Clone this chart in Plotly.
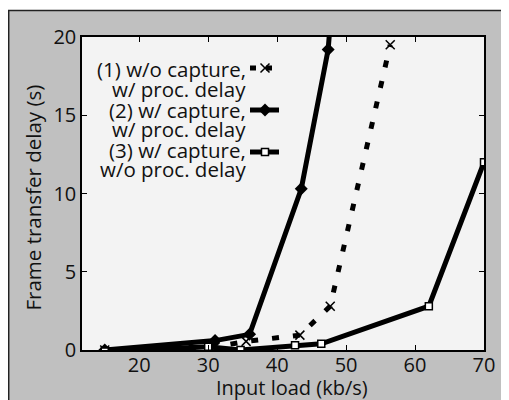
import plotly.graph_objects as go

# ---- data ----
s1_x = [15, 31, 35.5, 43.3, 47.7, 56.4]
s1_y = [0.0, 0.2, 0.55, 0.95, 2.8, 19.5]
s2_x = [15, 31, 36, 43.5, 47.4, 47.9]
s2_y = [0.0, 0.6, 1.0, 10.3, 19.2, 22.0]
s3_x = [15, 30, 34.7, 42.6, 46.4, 62, 70]
s3_y = [-0.1, 0.2, 0.0, 0.3, 0.4, 2.8, 12.0]

legend_lines = [["(1) w/o capture,", "w/ proc. delay"],
                ["(2) w/ capture,", "w/ proc. delay"],
                ["(3) w/ capture,", "w/o proc. delay"]]
x_ticks = [20, 30, 40, 50, 60, 70]
y_ticks = [0, 5, 10, 15, 20]
x_title = "Input load (kb/s)"
y_title = "Frame transfer delay (s)"

FONT = "Open Sans"
OFF = 8                      # page body margin of the html page
W, H = 509 - OFF, 400 - OFF  # figure size
# plot area in page pixels: x 82..484, y 37..350
L, R = 82 - OFF, W - (484 - OFF)
T, B = 37 - OFF, H - (350 - OFF)
PW, PH = W - L - R, H - T - B


def px(xp):
    """page x pixel -> paper fraction"""
    return (xp - OFF - L) / PW


def py(yp):
    """page y pixel -> paper fraction"""
    return (H - B - (yp - OFF)) / PH


fig = go.Figure()

fig.add_trace(go.Scatter(x=s1_x, y=s1_y, mode="lines+markers",
                         line=dict(color="black", width=5, dash="7px,14px"),
                         marker=dict(symbol="x-thin", size=9, line=dict(width=1.5, color="black")),
                         showlegend=False))
fig.add_trace(go.Scatter(x=s2_x, y=s2_y, mode="lines+markers",
                         line=dict(color="black", width=5),
                         marker=dict(symbol="diamond", size=10, color="black"),
                         showlegend=False))
fig.add_trace(go.Scatter(x=s3_x, y=s3_y, mode="lines+markers",
                         line=dict(color="black", width=5),
                         marker=dict(symbol="square", size=7, color="white",
                                     line=dict(width=1.5, color="black")),
                         showlegend=False))

# legend samples on overlay axes (0..1 of plot area)
sample_y = [py(68), py(110), py(152)]
sx = [px(250), px(265), px(279)]
styles = [
    dict(line=dict(color="black", width=5, dash="6px,10px"),
         marker=dict(symbol="x-thin", size=9, line=dict(width=1.5, color="black"))),
    dict(line=dict(color="black", width=5),
         marker=dict(symbol="diamond", size=10, color="black")),
    dict(line=dict(color="black", width=5),
         marker=dict(symbol="square", size=7, color="white", line=dict(width=1.5, color="black"))),
]
for yy, st in zip(sample_y, styles):
    fig.add_trace(go.Scatter(x=[sx[0], sx[2]], y=[yy, yy], mode="lines",
                             line=st["line"], xaxis="x2", yaxis="y2", showlegend=False,
                             hoverinfo="skip"))
    fig.add_trace(go.Scatter(x=[sx[1]], y=[yy], mode="markers", marker=st["marker"],
                             xaxis="x2", yaxis="y2", showlegend=False, hoverinfo="skip"))

annotations = []
line_y = [69, 89, 110, 129, 150, 169]
k = 0
for entry in legend_lines:
    for t in entry:
        annotations.append(dict(x=px(247), y=py(line_y[k]), xref="paper", yref="paper",
                                text=t, showarrow=False, xanchor="right", yanchor="middle",
                                borderpad=0,
                                font=dict(family=FONT, size=20.5, color="#111")))
        k += 1
annotations.append(dict(x=px(292), y=py(387), xref="paper", yref="paper", text=x_title,
                        showarrow=False, xanchor="center", yanchor="middle", borderpad=0,
                        font=dict(family=FONT, size=20, color="#111")))
annotations.append(dict(x=px(33), y=py(197.5), xref="paper", yref="paper", text=y_title,
                        showarrow=False, xanchor="center", yanchor="middle", textangle=-90,
                        font=dict(family=FONT, size=20.5, color="#111")))

shapes = [
    dict(type="rect", xref="paper", yref="paper", x0=px(8.7), x1=px(530), y0=py(420), y1=py(10.5),
         fillcolor="#c0c0c0", line=dict(color="#222", width=1.5), layer="below"),
    dict(type="rect", xref="paper", yref="paper", x0=0, x1=1, y0=0, y1=1,
         fillcolor="#f3f3f3", line=dict(width=0), layer="below"),
]

axis_common = dict(showline=True, linecolor="black", linewidth=1.5, mirror="ticks",
                   ticks="inside", ticklen=5, tickwidth=1.2, tickcolor="black",
                   showgrid=False, zeroline=False,
                   tickfont=dict(family=FONT, size=20, color="#111"))

fig.update_layout(
    width=W, height=H,
    margin=dict(l=L, r=R, t=T, b=B),
    paper_bgcolor="white", plot_bgcolor="rgba(0,0,0,0)",
    xaxis=dict(range=[11.7, 70], tickvals=x_ticks, ticklabelstandoff=-4, **axis_common),
    yaxis=dict(range=[0, 20], tickvals=y_ticks, **axis_common),
    xaxis2=dict(overlaying="x", range=[0, 1], visible=False, anchor="y2"),
    yaxis2=dict(overlaying="y", range=[0, 1], visible=False, anchor="x2"),
    annotations=annotations, shapes=shapes, showlegend=False,
)

fig.write_html("out.html")
